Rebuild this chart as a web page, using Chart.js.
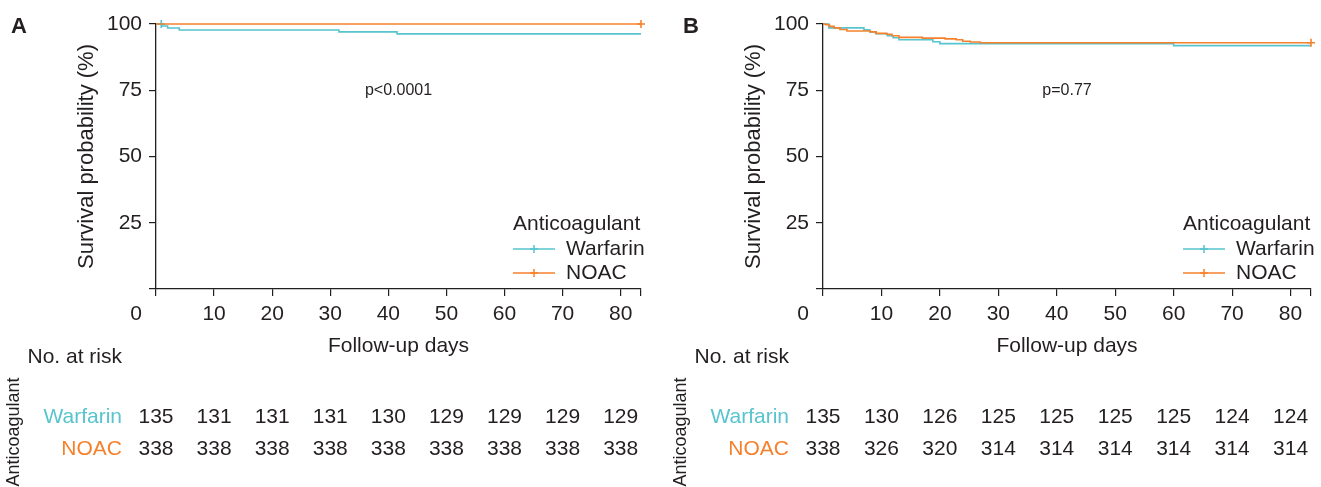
<!DOCTYPE html>
<html>
<head>
<meta charset="utf-8">
<script src="https://cdn.jsdelivr.net/npm/chart.js@4.4.1/dist/chart.umd.min.js"></script>
<style>
html, body { margin: 0; padding: 0; background: #fff; }
#wrap { position: relative; width: 1321px; height: 487px; overflow: hidden; }
canvas { position: absolute; top: 0; }
</style>
</head>
<body>
<div id="wrap">
  <canvas id="chartA" width="660" height="487" style="left:0"></canvas>
  <canvas id="chartB" width="661" height="487" style="left:660px"></canvas>
</div>
<script>
// ticks
const xTicks = [0, 10, 20, 30, 40, 50, 60, 70, 80];
const yTicks = [0, 25, 50, 75, 100];
const xMax = 83.5;

// panel A - survival steps (day, %)
const timeAWarfarin = [0, 1, 2, 4, 31.5, 41.5, 83.5];
const survAWarfarin = [100, 99.25, 98.51, 97.76, 97.02, 96.27, 96.27];
const timeANoac = [0, 83.5];
const survANoac = [100, 100];
const censorAWarfarinT = [0.9];
const censorAWarfarinS = [100];
const censorANoacT = [83.5];
const censorANoacS = [100];

// panel B
const timeBWarfarin = [0, 1, 7, 8, 9, 11, 12, 13, 18.8, 20, 60, 83.5];
const survBWarfarin = [100, 98.52, 97.78, 97.04, 96.30, 95.56, 94.81, 94.07, 93.33, 92.59, 91.85, 91.85];
const timeBNoac = [0, 0.5, 1.1, 1.9, 2.9, 4.1, 8.1, 9.1, 10.9, 11.8, 13, 17, 20.9, 22.8, 23.9, 25.2, 26.9, 83.5];
const survBNoac = [100, 99.70, 99.11, 98.52, 97.93, 97.34, 97.04, 96.45, 96.15, 95.56, 94.97, 94.67, 94.38, 94.08, 93.49, 93.20, 92.90, 92.90];
const censorBWarfarinT = [];
const censorBWarfarinS = [];
const censorBNoacT = [83.5];
const censorBNoacS = [92.90];

// number at risk
const riskAWarfarin = [135, 131, 131, 131, 130, 129, 129, 129, 129];
const riskANoac = [338, 338, 338, 338, 338, 338, 338, 338, 338];
const riskBWarfarin = [135, 130, 126, 125, 125, 125, 125, 124, 124];
const riskBNoac = [338, 326, 320, 314, 314, 314, 314, 314, 314];

const groups = ["Warfarin", "NOAC"];
const teal = "#57C4CE";
const orange = "#F6812C";
const ink = "#231F20";
const fontFam = '"Liberation Sans", Arial, sans-serif';

function toPoints(ts, ss) {
    return ts.map((t, i) => ({ x: t, y: ss[i] }));
}

function drawCross(ctx, x, y, r, color) {
    ctx.save();
    ctx.strokeStyle = color;
    ctx.lineWidth = 1.5;
    ctx.beginPath();
    ctx.moveTo(x - r, y); ctx.lineTo(x + r, y);
    ctx.moveTo(x, y - r); ctx.lineTo(x, y + r);
    ctx.stroke();
    ctx.restore();
}

function textPlugin(panel) {
    return {
        id: "kmText" + panel.letter,
        afterDraw(chart) {
            const ctx = chart.ctx;
            const xs = chart.scales.x;
            const ys = chart.scales.y;
            const area = chart.chartArea;
            ctx.save();
            ctx.fillStyle = ink;
            ctx.textBaseline = "middle";

            // panel letter
            ctx.font = "bold 22px " + fontFam;
            ctx.textAlign = "left";
            ctx.fillText(panel.letter, panel.letterX, 27);

            // x tick labels
            ctx.font = "21px " + fontFam;
            ctx.textAlign = "center";
            xTicks.forEach(v => {
                let x = xs.getPixelForValue(v);
                if (v === 0) x -= 20;
                ctx.fillText(String(v), x, 314);
            });

            // axis titles
            ctx.fillText("Follow-up days", (area.left + area.right) / 2, 346);
            ctx.save();
            ctx.font = "22px " + fontFam;
            ctx.translate(area.left - 69, (area.top + area.bottom) / 2);
            ctx.rotate(-Math.PI / 2);
            ctx.fillText("Survival probability (%)", 0, 0);
            ctx.restore();

            // p value
            ctx.font = "16px " + fontFam;
            ctx.fillText(panel.pText, xs.getPixelForValue(xMax / 2), ys.getPixelForValue(75));

            // legend
            const lx = area.right - 128;
            ctx.font = "21px " + fontFam;
            ctx.textAlign = "left";
            ctx.fillText("Anticoagulant", lx, 224);
            [teal, orange].forEach((c, i) => {
                const y = 249 + i * 24;
                ctx.save();
                ctx.strokeStyle = c;
                ctx.lineWidth = 1.6;
                ctx.beginPath();
                ctx.moveTo(lx, y); ctx.lineTo(lx + 42, y);
                ctx.stroke();
                ctx.restore();
                drawCross(ctx, lx + 21, y, 4, c);
                ctx.fillStyle = ink;
                ctx.fillText(groups[i], lx + 53, y);
            });

            // risk table
            ctx.textAlign = "right";
            ctx.fillText("No. at risk", area.left - 34, 357);
            ctx.fillStyle = teal;
            ctx.fillText(groups[0], area.left - 34, 417);
            ctx.fillStyle = orange;
            ctx.fillText(groups[1], area.left - 34, 449);
            ctx.fillStyle = ink;
            ctx.textAlign = "center";
            xTicks.forEach((v, i) => {
                const x = xs.getPixelForValue(v);
                ctx.fillText(String(panel.risk[0][i]), x, 417);
                ctx.fillText(String(panel.risk[1][i]), x, 449);
            });

            ctx.save();
            ctx.font = "18px " + fontFam;
            ctx.translate(area.left - 142, 432);
            ctx.rotate(-Math.PI / 2);
            ctx.fillText("Anticoagulant", 0, 0);
            ctx.restore();

            ctx.restore();
        }
    };
}

function makeChart(id, panel) {
    const el = document.getElementById(id);
    return new Chart(el, {
        type: "line",
        data: {
            datasets: [
                {
                    data: toPoints(panel.time[1], panel.surv[1]),
                    borderColor: orange, borderWidth: 1.6,
                    stepped: true, pointRadius: 0, fill: false, clip: false, order: 0
                },
                {
                    data: toPoints(panel.time[0], panel.surv[0]),
                    borderColor: teal, borderWidth: 1.6,
                    stepped: true, pointRadius: 0, fill: false, clip: false, order: 1
                },
                {
                    type: "scatter",
                    data: toPoints(panel.censorT[1], panel.censorS[1]),
                    borderColor: orange, borderWidth: 1.6, pointStyle: "cross",
                    pointRadius: 4, showLine: false, clip: false, order: 0
                },
                {
                    type: "scatter",
                    data: toPoints(panel.censorT[0], panel.censorS[0]),
                    borderColor: teal, borderWidth: 1.6, pointStyle: "cross",
                    pointRadius: 4, showLine: false, clip: false, order: 1
                }
            ]
        },
        options: {
            responsive: false,
            animation: false,
            layout: { padding: { left: 0, right: panel.padRight, top: 24, bottom: 0 } },
            plugins: { legend: { display: false }, tooltip: { enabled: false } },
            scales: {
                x: {
                    type: "linear", min: 0, max: xMax,
                    afterBuildTicks: s => { s.ticks = xTicks.concat([xMax]).map(v => ({ value: v })); },
                    ticks: { display: false },
                    grid: { drawOnChartArea: false, drawTicks: true, tickLength: 7, color: ink, lineWidth: 1.2 },
                    border: { display: true, color: ink, width: 1.3 },
                    afterFit: s => { s.height = 487 - 289; }
                },
                y: {
                    type: "linear", min: 0, max: 100,
                    afterBuildTicks: s => { s.ticks = yTicks.map(v => ({ value: v })); },
                    ticks: {
                        callback: v => (v === 0 ? "" : v),
                        font: { family: fontFam, size: 21 }, color: ink, padding: 7
                    },
                    grid: { drawOnChartArea: false, drawTicks: true, tickLength: 7, color: ink, lineWidth: 1.2 },
                    border: { display: true, color: ink, width: 1.3 },
                    afterFit: s => { s.width = panel.axisLeft; }
                }
            }
        },
        plugins: [textPlugin(panel)]
    });
}

makeChart("chartA", {
    letter: "A", letterX: 11, pText: "p<0.0001",
    axisLeft: 156, padRight: 660 - 641,
    time: [timeAWarfarin, timeANoac], surv: [survAWarfarin, survANoac],
    censorT: [censorAWarfarinT, censorANoacT], censorS: [censorAWarfarinS, censorANoacS],
    risk: [riskAWarfarin, riskANoac]
});

makeChart("chartB", {
    letter: "B", letterX: 23, pText: "p=0.77",
    axisLeft: 163, padRight: 661 - 651,
    time: [timeBWarfarin, timeBNoac], surv: [survBWarfarin, survBNoac],
    censorT: [censorBWarfarinT, censorBNoacT], censorS: [censorBWarfarinS, censorBNoacS],
    risk: [riskBWarfarin, riskBNoac]
});
</script>
</body>
</html>
